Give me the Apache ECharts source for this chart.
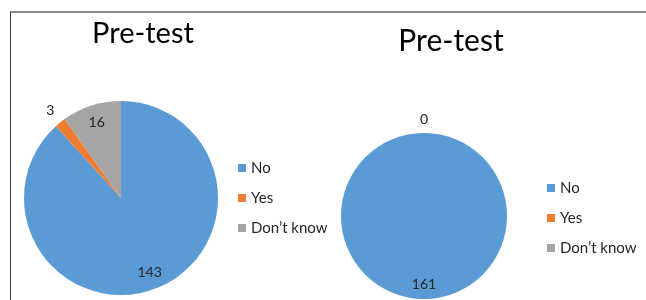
<!DOCTYPE html>
<html>
<head>
<meta charset="utf-8">
<script src="https://cdn.jsdelivr.net/npm/echarts@6/dist/echarts.min.js"></script>
<style>
    html, body { margin: 0; padding: 0; background: #fff; }
    #wrap { position: relative; width: 646px; height: 300px; }
    #piecharts { width: 646px; height: 300px; }
    #frame {
        position: absolute; left: 10px; top: 11px; right: 0; bottom: 0;
        border-top: 2px solid #8c8c8c; border-left: 1px solid #3c3c3c;
        pointer-events: none;
    }
</style>
</head>
<body>
<div id="wrap">
    <div id="piecharts"></div>
    <div id="frame"></div>
</div>
<script>
var categories = ['No', 'Yes', 'Don\u2019t know'];
var leftValues = [143, 3, 16];
var rightValues = [161, 0, 0];
// where each value label sits: in = inside the slice, out = just outside the pie
var leftLabelPos = ['in', 'out', 'in'];
var rightLabelPos = ['in', 'out', 'out'];
var titles = ['Pre-test', 'Pre-test'];

var colors = ['#5B9BD5', '#ED7D31', '#A5A5A5'];
var fontName = 'Lato, "Liberation Sans", sans-serif';

function pieData(values, pos, ring) {
    return categories.map(function (name, i) {
        return {
            name: name,
            value: values[i],
            label: { show: ring !== 'base' && pos[i] === ring }
        };
    });
}

// one pie = a visible base pie plus two invisible rings that only carry labels
function pieSeries(values, pos, center, r) {
    var common = {
        type: 'pie',
        center: center,
        startAngle: 90,
        clockwise: true,
        avoidLabelOverlap: false,
        labelLine: { show: false },
        emphasis: { disabled: true }
    };
    var labelStyle = {
        position: 'inside', formatter: '{c}',
        color: '#262626', fontSize: 14, fontFamily: fontName
    };
    var base = Object.assign({}, common, {
        radius: [0, r],
        itemStyle: { borderWidth: 0 },
        label: { show: false },
        data: pieData(values, pos, 'base')
    });
    var inner = Object.assign({}, common, {
        radius: [r * 0.58, r],
        silent: true,
        itemStyle: { color: 'rgba(0,0,0,0)', borderWidth: 0 },
        label: labelStyle,
        data: pieData(values, pos, 'in')
    });
    var outer = Object.assign({}, common, {
        radius: [r, r * 1.26],
        silent: true,
        itemStyle: { color: 'rgba(0,0,0,0)', borderWidth: 0 },
        label: labelStyle,
        data: pieData(values, pos, 'out')
    });
    return [base, inner, outer];
}

var myChart = echarts.init(document.getElementById('piecharts'));
var legendText = { color: '#262626', fontSize: 15, fontFamily: fontName, lineHeight: 16 };
var option = {
    color: colors,
    animation: false,
    title: [
        {
            text: titles[0], left: 143, top: 19, textAlign: 'center', padding: 0,
            textStyle: { color: '#000', fontSize: 29, fontWeight: 'normal', fontFamily: fontName }
        },
        {
            text: titles[1], left: 451, top: 26, textAlign: 'center', padding: 0,
            textStyle: { color: '#000', fontSize: 30, fontWeight: 'normal', fontFamily: fontName }
        }
    ],
    legend: [
        {
            orient: 'vertical', left: 238, top: 160, padding: 0,
            itemWidth: 8, itemHeight: 8, itemGap: 14, icon: 'rect',
            textStyle: legendText, data: categories
        },
        {
            orient: 'vertical', left: 547, top: 180, padding: 0,
            itemWidth: 8, itemHeight: 8, itemGap: 14, icon: 'rect',
            textStyle: legendText, data: categories
        }
    ],
    series: pieSeries(leftValues, leftLabelPos, [121, 198], 97)
        .concat(pieSeries(rightValues, rightLabelPos, [424, 216], 83))
};
myChart.setOption(option);
window.onresize = function () {
    myChart.resize();
};
</script>
</body>
</html>
